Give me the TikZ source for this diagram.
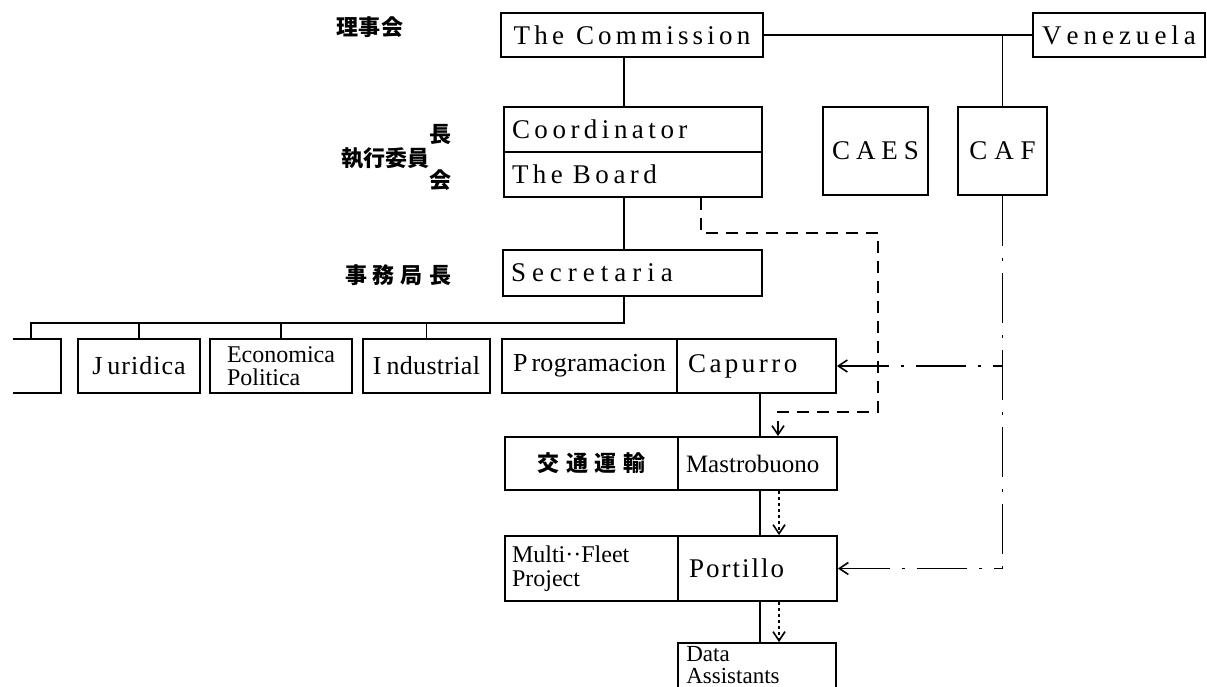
\documentclass[tikz,border=0pt]{standalone}
\usepackage{fontspec}
\setmainfont{Liberation Serif}
\newfontfamily\cjk{Noto Sans CJK JP}
\usetikzlibrary{arrows.meta,calc}
\ExplSyntaxOn
\NewDocumentCommand\sptext{m m}{\tl_map_inline:nn {#2} {##1\hspace{#1}}\unskip}
\ExplSyntaxOff
\tikzset{
  bx/.style={draw, line width=1.8pt, inner sep=0pt, font=\fontsize{27}{30}\selectfont},
  bxl/.style={bx, align=left},
  bxs/.style={bx, font=\fontsize{26}{28}\selectfont},
  lbl/.style={inner sep=0pt, font=\cjk\bfseries\fontsize{22}{24}\selectfont},
  ln/.style={line width=1.8pt},
  dsh/.style={line width=1.8pt, dash pattern=on 12pt off 8pt},
  dd/.style={line width=1.8pt, dash pattern=on 50pt off 12pt on 3pt off 12pt},
  dt/.style={line width=1.4pt, dash pattern=on 3pt off 3pt},
  tip/.style={-{Straight Barb[length=9pt,width=12pt,line width=1.6pt]}},
  tipr/.style={{Straight Barb[length=9pt,width=12pt,line width=1.6pt]}-}
}
\begin{document}
\begin{tikzpicture}[x=1pt,y=-1pt]
\useasboundingbox (0,0) rectangle (1207,686);
\fill[white] (0,0) rectangle (1207,686);
\clip (0,0) rectangle (1207,686);

% left labels
\node[lbl] (l1) at (370,27) {\sptext{1pt}{理事会}};
\node[lbl] (l2) at (385,158) {執行委員};
\node[lbl] (l3) at (440,134) {長};
\node[lbl] (l4) at (440,180) {会};
\node[lbl] (l5) at (398,275) {\sptext{6pt}{事務局長}};

% top
\node[bx, minimum width=262pt, minimum height=44pt] (comm) at (632,35)
  {\sptext{4.2pt}{The}\hspace{12pt}\sptext{4.2pt}{Commission}};
\node[bx, minimum width=172pt, minimum height=44pt] (ven) at (1119,35)
  {\sptext{5pt}{Venezuela}};
\node[bxl, minimum width=258pt, minimum height=45pt, text width=242pt] (coord) at (633,129.5)
  {\sptext{4.5pt}{Coordinator}};
\node[bxl, minimum width=258pt, minimum height=45pt, text width=242pt] (board) at (633,174.5)
  {\sptext{4.5pt}{The}\hspace{10pt}\sptext{4.5pt}{Board}};
\node[bx, minimum width=105pt, minimum height=88pt] (caes) at (875.5,151) {\sptext{6pt}{CAES}};
\node[bx, minimum width=89pt, minimum height=88pt] (caf) at (1002.5,151) {\sptext{7pt}{CAF}};
\node[bxl, minimum width=259pt, minimum height=46pt, text width=243pt] (secr) at (632.5,273)
  {\sptext{6pt}{Secretaria}};

% row of departments
\node[minimum width=48pt, minimum height=54pt, inner sep=0pt] (lb) at (37,366) {};
\node[bxs, minimum width=122pt, minimum height=54pt] (jur) at (139,366)
  {J\hspace{5pt}\sptext{1pt}{uridica}};
\node[bx, minimum width=142pt, minimum height=54pt, align=left, font=\fontsize{24}{23}\selectfont] (eco) at (281,366)
  {Economica\\Politica};
\node[bxs, minimum width=127pt, minimum height=54pt] (ind) at (426.5,366)
  {I\hspace{5pt}\sptext{0.3pt}{ndustrial}};
\node[bxs, minimum width=175pt, minimum height=54pt] (prog) at (589.5,366)
  {P\hspace{4pt}\sptext{0.3pt}{rogramacion}};
\node[bxl, minimum width=159pt, minimum height=54pt, text width=137pt] (cap) at (756.5,366)
  {\sptext{3.5pt}{Capurro}};

% lower column
\node[bx, minimum width=173pt, minimum height=53pt, font=\cjk\bfseries\fontsize{22}{24}\selectfont] (trans) at (591.5,463.5)
  {\sptext{7pt}{交通運輸}};
\node[bxl, minimum width=159pt, minimum height=53pt, text width=143pt, font=\fontsize{25}{28}\selectfont] (mast) at (757.5,463.5)
  {Mastrobuono};
\node[bxl, minimum width=173pt, minimum height=65pt, text width=159pt, font=\fontsize{24}{24}\selectfont] (multi) at (591.5,568.5)
  {Multi··Fleet\\Project};
\node[bxl, minimum width=159pt, minimum height=65pt, text width=137pt] (port) at (757.5,568.5)
  {\sptext{2pt}{Portillo}};
\node[bx, minimum width=158pt, minimum height=70pt] (data) at (757,678) {};
\node[inner sep=0pt, anchor=north west, align=left, font=\fontsize{23}{22}\selectfont] (datat) at ($(data.north west)+(9,4)$)
  {Data\\Assistants};

% coordinates
\coordinate (sp) at (624,0);
\coordinate (busR) at (624,323);
\coordinate (busL) at (31,323);
\coordinate (j1) at (1002.5,35);
\coordinate (cl) at (760,0);
\coordinate (ar) at (779,0);
\coordinate (d1) at (701,233);
\coordinate (d2) at (878,233);
\coordinate (d3) at (878,412);
\coordinate (d4) at (778,412);
\coordinate (c1) at (1002.5,366);
\coordinate (c2) at (1002.5,568.5);

% solid connectors
\draw[ln] (comm.east) -- (ven.west);
\draw[ln] (j1) -- (caf.north);
\draw[ln] (comm.south -| sp) -- (coord.north -| sp);
\draw[ln] (board.south -| sp) -- (secr.north -| sp);
\draw[ln] (secr.south -| sp) -- (busR) -- (busL) -- (busL |- lb.north);
\draw[ln] (lb.north west) -- (lb.north east) -- (lb.south east) -- (lb.south west);
\draw[ln] (jur.north |- busL) -- (jur.north);
\draw[ln] (eco.north |- busL) -- (eco.north);
\draw[ln] (ind.north |- busL) -- (ind.north);
\draw[ln] (cap.south -| cl) -- (mast.north -| cl);
\draw[ln] (mast.south -| cl) -- (port.north -| cl);
\draw[ln] (port.south -| cl) -- (data.north -| cl);

% dashed from the board
\draw[dsh, tip] (board.south -| d1) -- (d1) -- (d2) -- (d3) -- (d4) -- (mast.north -| d4);

% dotted arrows
\draw[dt, tip] (mast.south -| ar) -- (port.north -| ar);
\draw[dt, tip] (port.south -| ar) -- (data.north -| ar);

% dash-dot from CAF
\draw[dd] (caf.south) -- (c2);
\draw[dd, tipr] (port.east) -- (c2);
\draw[dd, tipr] (cap.east) -- (c1);
\end{tikzpicture}
\end{document}
